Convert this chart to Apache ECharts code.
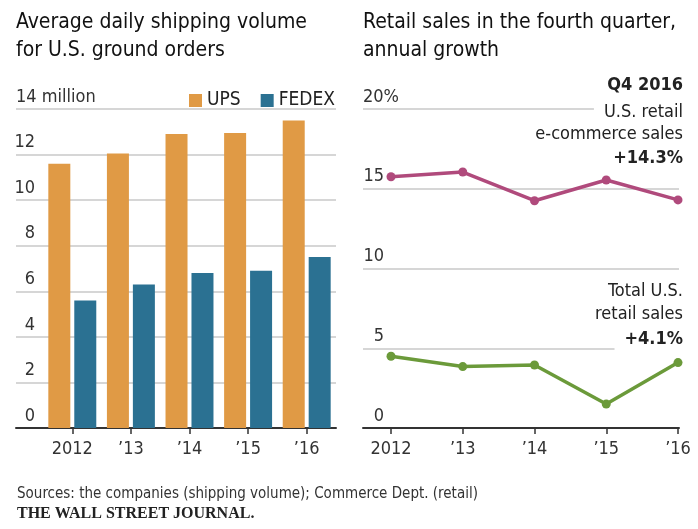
<!DOCTYPE html>
<html>
<head>
<meta charset="utf-8">
<script src="https://cdn.jsdelivr.net/npm/echarts@6/dist/echarts.min.js"></script>
<style>
  html, body { margin: 0; padding: 0; background: #fff; }
  #chart { width: 698px; height: 529px; }
</style>
</head>
<body>
<div id="chart"></div>
<script>
// shipping volume, million per day
const years = ['2012', '\u201913', '\u201914', '\u201915', '\u201916']
const ups = [11.6, 12.05, 12.9, 12.95, 13.5]
const fedex = [5.6, 6.3, 6.8, 6.9, 7.5]
const volTicks = [0, 2, 4, 6, 8, 10, 12, 14]

// retail sales growth in Q4, percent
const ecommerce = [15.75, 16.05, 14.25, 15.55, 14.3]
const totalRetail = [4.5, 3.85, 3.95, 1.5, 4.1]
const growthTicks = [0, 5, 10, 15, 20]

const FONT = '"Liberation Sans Narrow", "DejaVu Sans Condensed", "Roboto", sans-serif'
const ORANGE = '#e09a45'
const BLUE = '#2b7192'
const MAGENTA = '#b04a7c'
const GREEN = '#6b9a3a'
const GRID_TOP = 109
const GRID_BOTTOM = 101

let myChart = echarts.init(document.getElementById('chart'))

function labelAxis(ticks, gridIndex, fmt, w) {
  return {
    type: 'value',
    gridIndex: gridIndex,
    min: ticks[0],
    max: ticks[ticks.length - 1],
    interval: ticks[1] - ticks[0],
    axisLine: { show: false },
    axisTick: { show: false },
    splitLine: { lineStyle: { color: '#c8c8c8', width: 1.5 } },
    axisLabel: {
      inside: true,
      margin: 0,
      align: 'left',
      verticalAlign: 'bottom',
      padding: [0, 0, 3, 0],
      formatter: fmt,
      rich: {
        n: { fontFamily: FONT, fontSize: 18, color: '#333', width: w, align: 'right', lineHeight: 18 },
        a: { fontFamily: FONT, fontSize: 18, color: '#333', lineHeight: 18 }
      }
    }
  }
}

function plainY(ticks, gridIndex) {
  return {
    type: 'value',
    gridIndex: gridIndex,
    min: ticks[0],
    max: ticks[ticks.length - 1],
    interval: ticks[1] - ticks[0],
    show: false
  }
}

function catX(gridIndex, boundaryGap) {
  return {
    type: 'category',
    gridIndex: gridIndex,
    data: years,
    boundaryGap: boundaryGap,
    axisLine: { show: false },
    axisTick: { show: true, alignWithLabel: true, length: 6, lineStyle: { color: '#333', width: 1.5 } },
    axisLabel: { margin: 12, fontFamily: FONT, fontSize: 18, color: '#333', interval: 0 },
    splitLine: { show: false }
  }
}

function baseX(gridIndex) {
  return {
    type: 'value',
    gridIndex: gridIndex,
    min: 0,
    max: 1,
    axisLine: { show: true, lineStyle: { color: '#333', width: 2 } },
    axisTick: { show: false },
    axisLabel: { show: false },
    splitLine: { show: false }
  }
}

function note(text, y, bold) {
  return {
    type: 'text',
    right: 15,
    top: y - 11,
    z: 100,
    style: {
      text: text,
      fill: '#222',
      font: (bold ? 'bold ' : '') + '18px ' + FONT,
      backgroundColor: '#fff',
      padding: [1, 0, 2, 10]
    }
  }
}

let options = {
  animation: false,
  grid: [
    { left: 43, right: 362, top: GRID_TOP, bottom: GRID_BOTTOM },
    { left: 16, right: 362, top: GRID_TOP, bottom: GRID_BOTTOM },
    { left: 391, right: 20, top: GRID_TOP, bottom: GRID_BOTTOM },
    { left: 363, right: 19, top: GRID_TOP, bottom: GRID_BOTTOM }
  ],
  xAxis: [catX(0, true), baseX(1), catX(2, false), baseX(3)],
  yAxis: [
    plainY(volTicks, 0),
    labelAxis(volTicks, 1, v => v === 14 ? '{a|14 million}' : '{n|' + v + '}', 19),
    plainY(growthTicks, 2),
    labelAxis(growthTicks, 3, v => v === 20 ? '{a|20%}' : '{n|' + v + '}', 21)
  ],
  legend: {
    data: ['UPS', 'FEDEX'],
    left: 184,
    top: 86,
    icon: 'rect',
    itemWidth: 13,
    itemHeight: 13,
    itemGap: 20,
    textStyle: { fontFamily: FONT, fontSize: 19, color: '#222', padding: [0, 0, 0, 0] }
  },
  title: [
    {
      text: 'Average daily shipping volume\nfor U.S. ground orders',
      left: 11, top: 4,
      textStyle: { fontFamily: FONT, fontSize: 21, fontWeight: 500, color: '#111', lineHeight: 28 }
    },
    {
      text: 'Retail sales in the fourth quarter,\nannual growth',
      left: 358, top: 4,
      textStyle: { fontFamily: FONT, fontSize: 21, fontWeight: 500, color: '#111', lineHeight: 28 }
    },
    {
      text: 'Sources: the companies (shipping volume); Commerce Dept. (retail)',
      left: 12, top: 482,
      textStyle: { fontFamily: FONT, fontSize: 15, fontWeight: 'normal', color: '#333' }
    },
    {
      text: 'THE WALL STREET JOURNAL.',
      left: 12, top: 501,
      textStyle: { fontFamily: '"Liberation Serif", "DejaVu Serif", serif', fontSize: 16, fontWeight: 'bold', color: '#222' }
    }
  ],
  graphic: [
    note('Q4 2016', 86, true),
    note('U.S. retail', 113, false),
    note('e-commerce sales', 135, false),
    note('+14.3%', 159, true),
    note('Total U.S.', 292, false),
    note('retail sales', 315, false),
    note('+4.1%', 340, true)
  ],
  series: [
    {
      name: 'UPS',
      type: 'bar',
      xAxisIndex: 0, yAxisIndex: 0,
      barWidth: 22,
      barGap: '18%',
      itemStyle: { color: ORANGE },
      data: ups
    },
    {
      name: 'FEDEX',
      type: 'bar',
      xAxisIndex: 0, yAxisIndex: 0,
      barWidth: 22,
      barGap: '18%',
      itemStyle: { color: BLUE },
      data: fedex
    },
    {
      name: 'E-commerce',
      type: 'line',
      xAxisIndex: 2, yAxisIndex: 2,
      symbol: 'circle',
      symbolSize: 9,
      clip: false,
      lineStyle: { color: MAGENTA, width: 3.5 },
      itemStyle: { color: MAGENTA },
      data: ecommerce
    },
    {
      name: 'Total retail',
      type: 'line',
      xAxisIndex: 2, yAxisIndex: 2,
      symbol: 'circle',
      symbolSize: 9,
      clip: false,
      lineStyle: { color: GREEN, width: 3.5 },
      itemStyle: { color: GREEN },
      data: totalRetail
    }
  ]
}
myChart.setOption(options)
</script>
</body>
</html>
